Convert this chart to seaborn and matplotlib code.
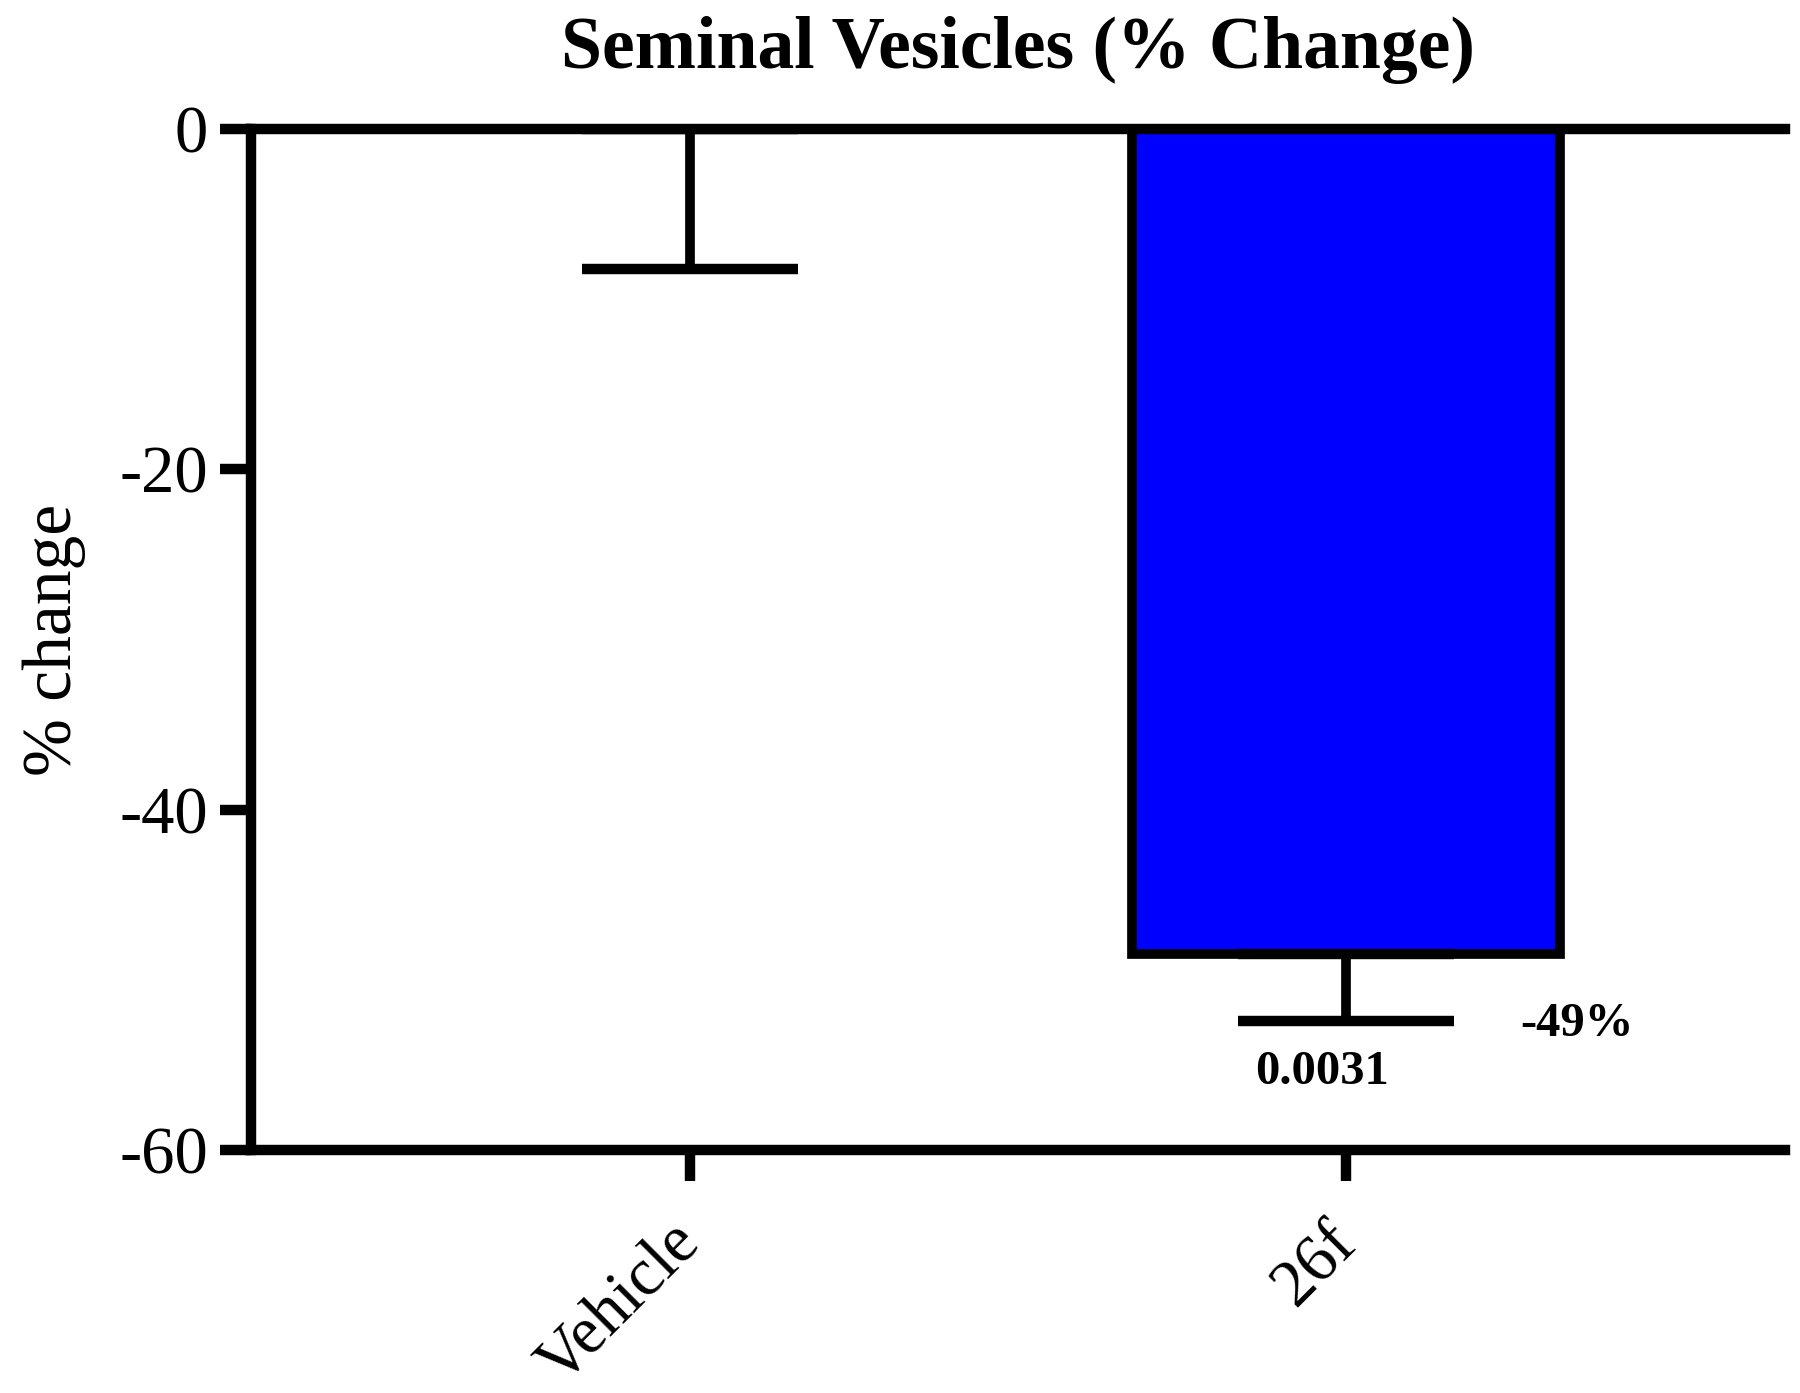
import matplotlib
matplotlib.use('Agg')
import matplotlib.pyplot as plt
import seaborn as sns
import numpy as np
import pandas as pd

# chart data
groups = ['Vehicle', '26f']
means = [0.0, -48.5]
sems = [8.2, 3.9]
bar_colors = ['#FFFFFF', '#0000FF']
p_value_text = '0.0031'
change_text = '-49%'

df = pd.DataFrame({'group': groups, 'change': means})

sns.set_style('white')
plt.rcParams['font.family'] = ['serif']
plt.rcParams['font.serif'] = ['Liberation Serif', 'DejaVu Serif']
plt.rcParams['axes.unicode_minus'] = False
plt.rcParams['text.color'] = 'black'
plt.rcParams['axes.labelcolor'] = 'black'
plt.rcParams['xtick.color'] = 'black'
plt.rcParams['ytick.color'] = 'black'

fig = plt.figure(figsize=(18, 13.93), dpi=100)
ax = fig.add_axes([0.1394, 0.1744, 0.8523, 0.733])

sns.barplot(data=df, x='group', y='change', hue='group', palette=bar_colors,
            saturation=1, edgecolor='black', linewidth=7, width=0.652,
            errorbar=None, legend=False, ax=ax, zorder=2)

# error bars, lower side only
ax.errorbar(range(len(groups)), means, yerr=[sems, [0] * len(sems)],
            fmt='none', ecolor='black', elinewidth=7, capsize=78,
            capthick=7.5, zorder=3)

ax.set_xlim(-0.67, 1.67)
ax.set_ylim(-60, 0)
ax.set_yticks([0, -20, -40, -60])

ax.spines['right'].set_visible(False)
for side in ['left', 'bottom', 'top']:
    ax.spines[side].set_linewidth(7.5)
    ax.spines[side].set_color('black')

ax.tick_params(axis='both', direction='out', length=22, width=7.5,
               color='black', labelcolor='black', labelsize=48)
ax.tick_params(bottom=True, left=True, top=False, right=False)
ax.tick_params(axis='y', pad=9)
ax.tick_params(axis='x', pad=38)

for lab in ax.get_xticklabels():
    lab.set_rotation(45)
    lab.set_ha('right')
    lab.set_va('center')
    lab.set_rotation_mode('anchor')

ax.set_xlabel('')
ax.set_ylabel('% change', fontsize=50, labelpad=24, color='black')
ax.set_title('Seminal Vesicles (% Change)', fontsize=53, fontweight='bold',
             pad=44, color='black')

ax.text(0.963, -55.4, p_value_text, fontsize=35, fontweight='bold',
        ha='center', va='center', color='black')
ax.text(1.353, -52.6, change_text, fontsize=35, fontweight='bold',
        ha='center', va='center', color='black')

plt.savefig('out.png', dpi=100)
